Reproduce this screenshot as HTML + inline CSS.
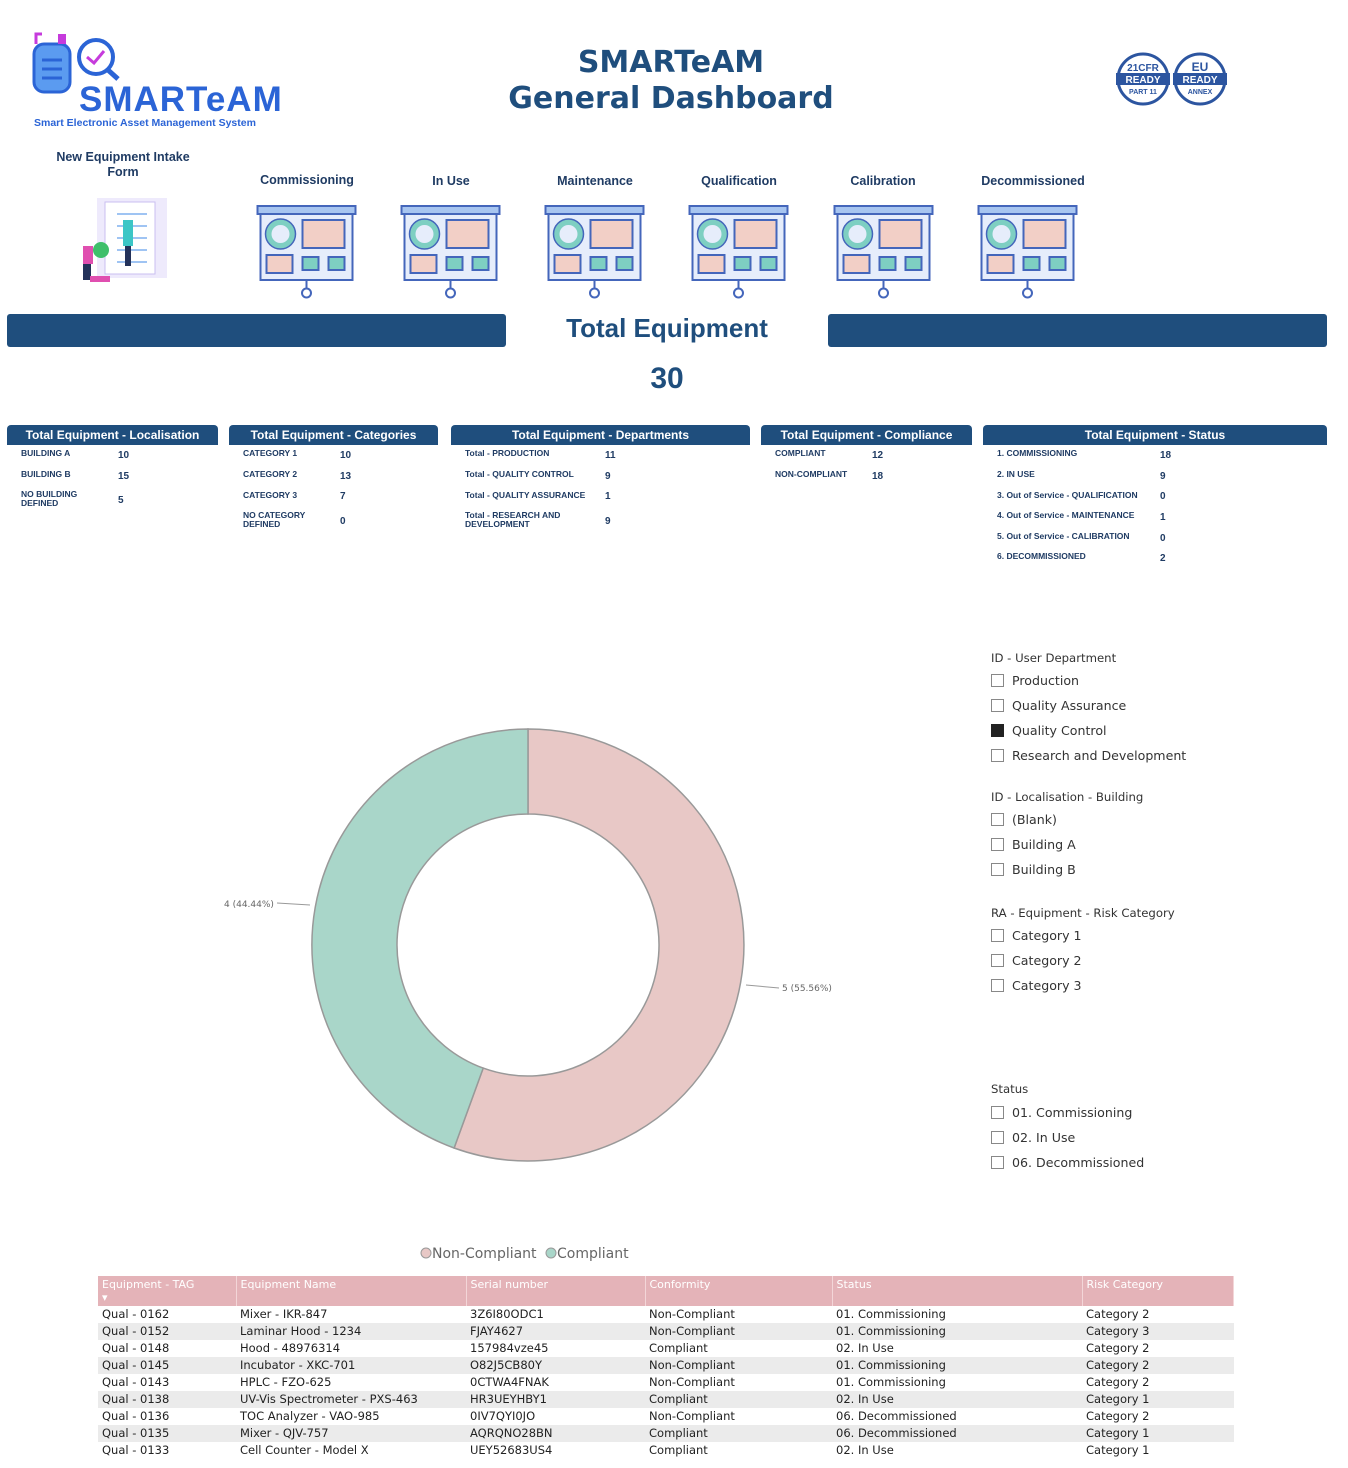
<!DOCTYPE html>
<html><head><meta charset="utf-8"><style>
*{margin:0;padding:0;box-sizing:border-box}
body{width:1348px;height:1468px;background:#fff;font-family:"Liberation Sans",sans-serif;position:relative;overflow:hidden;color:#1f3b63}
.a{position:absolute}
.h{position:absolute;background:#1f4e7d;color:#fff;font-weight:bold;font-size:12px;height:20px;line-height:21px;text-align:center;border-radius:4px 4px 0 0}
.k{position:absolute;font-size:8.5px;font-weight:bold;color:#1f3b63;line-height:9px}
.v{position:absolute;font-size:10px;font-weight:bold;color:#1f3b63}
.lbl{position:absolute;font-size:12.5px;font-weight:bold;color:#1f3b63;text-align:center}
.sl{position:absolute;color:#333;font-family:"DejaVu Sans",sans-serif;font-size:12.6px}
.cb{display:inline-block;width:13px;height:13px;border:1px solid #888;vertical-align:-2px;margin-right:8px}
table{position:absolute;left:98px;top:1276px;width:1136px;border-collapse:collapse;font-family:"DejaVu Sans",sans-serif;font-size:11.5px;color:#222}
th{background:#e4b3b8;color:#fff;font-weight:normal;text-align:left;height:29px;vertical-align:top;padding:2px 4px;font-size:11px;line-height:13px;border-right:1px solid #f3d6d8}
td{height:17px;padding:0 4px;line-height:17px}
tr.g td{background:#ebebeb}
</style></head><body>
<svg width="0" height="0" style="position:absolute"><defs>
<symbol id="bd" viewBox="0 0 100 95">
<rect x="1" y="1" width="98" height="8" fill="#a7c5f0" stroke="#4466bb" stroke-width="2"/>
<rect x="4" y="9" width="92" height="66" fill="#e6edfb" stroke="#4466bb" stroke-width="2"/>
<circle cx="24" cy="29" r="12" fill="none" stroke="#7ecfc2" stroke-width="6"/>
<circle cx="24" cy="29" r="15" fill="none" stroke="#4466bb" stroke-width="1.5"/>
<rect x="46" y="15" width="42" height="28" fill="#f2cfc6" stroke="#4466bb" stroke-width="2"/>
<rect x="10" y="50" width="26" height="18" fill="#f2cfc6" stroke="#4466bb" stroke-width="2"/>
<rect x="46" y="52" width="16" height="13" fill="#7ecfc2" stroke="#4466bb" stroke-width="2"/>
<rect x="72" y="52" width="16" height="13" fill="#7ecfc2" stroke="#4466bb" stroke-width="2"/>
<line x1="50" y1="83" x2="50" y2="75" stroke="#4466bb" stroke-width="2"/>
<circle cx="50" cy="88" r="4.5" fill="#fff" stroke="#4466bb" stroke-width="2"/>
</symbol></defs></svg>

<svg class="a" style="left:30px;top:30px" width="100" height="75">
<rect x="4" y="14" width="36" height="48" rx="10" fill="#5b9bf0" stroke="#2b64d6" stroke-width="3"/>
<line x1="12" y1="30" x2="32" y2="30" stroke="#2b64d6" stroke-width="3"/><line x1="12" y1="39" x2="32" y2="39" stroke="#2b64d6" stroke-width="3"/><line x1="12" y1="48" x2="32" y2="48" stroke="#2b64d6" stroke-width="3"/>
<path d="M6 14 V4 H12" stroke="#c63bdc" stroke-width="3" fill="none"/><rect x="28" y="4" width="8" height="10" fill="#c63bdc"/>
<circle cx="66" cy="27" r="17" fill="none" stroke="#2b64d6" stroke-width="4"/><line x1="78" y1="40" x2="88" y2="49" stroke="#2b64d6" stroke-width="5"/>
<path d="M57 27 l7 6 l10 -12" stroke="#c63bdc" stroke-width="3" fill="none"/>
</svg>
<div class="a" style="left:79px;top:80px;font-size:35px;font-weight:bold;color:#2b64d6;letter-spacing:1px;font-family:'Liberation Sans',sans-serif">SMARTeAM</div>
<div class="a" style="left:34px;top:117px;font-size:10.5px;font-weight:bold;color:#2b64d6">Smart Electronic Asset Management System</div>

<div class="a" style="left:0;width:1342px;top:45px;text-align:center;font-size:30px;font-weight:bold;color:#1f4e7d;line-height:36px;font-family:'DejaVu Sans',sans-serif">SMARTeAM<br>General Dashboard</div>

<svg class="a" style="left:1115px;top:52px" width="115" height="55">
<g font-family="Liberation Sans" font-weight="bold" text-anchor="middle">
<circle cx="28" cy="27" r="25" fill="#fff" stroke="#2c55a0" stroke-width="3"/><rect x="1" y="21" width="54" height="12" fill="#2c55a0"/>
<text x="28" y="19" font-size="10" fill="#2c55a0">21CFR</text><text x="28" y="31" font-size="10" fill="#fff">READY</text><text x="28" y="42" font-size="7" fill="#2c55a0">PART 11</text>
<circle cx="85" cy="27" r="25" fill="#fff" stroke="#2c55a0" stroke-width="3"/><rect x="58" y="21" width="54" height="12" fill="#2c55a0"/>
<text x="85" y="19" font-size="12" fill="#2c55a0">EU</text><text x="85" y="31" font-size="10" fill="#fff">READY</text><text x="85" y="42" font-size="7" fill="#2c55a0">ANNEX</text></g>
</svg>

<div class="lbl" style="left:40px;width:166px;top:150px;line-height:15px">New Equipment Intake<br>Form</div>
<svg class="a" style="left:75px;top:192px" width="100" height="92">
<rect x="22" y="6" width="70" height="80" fill="#eeeafc"/><rect x="30" y="10" width="50" height="72" fill="#fff" stroke="#c9bff0"/>
<g stroke="#9fc4f3" stroke-width="2"><line x1="42" y1="22" x2="72" y2="22"/><line x1="42" y1="34" x2="72" y2="34"/><line x1="42" y1="46" x2="72" y2="46"/><line x1="42" y1="58" x2="72" y2="58"/><line x1="42" y1="70" x2="72" y2="70"/></g>
<circle cx="26" cy="58" r="8" fill="#3fbf6a"/><rect x="8" y="54" width="10" height="18" fill="#e04fb0"/><rect x="8" y="72" width="8" height="16" fill="#23325a"/>
<rect x="48" y="28" width="10" height="26" fill="#3cc6c6"/><rect x="50" y="54" width="6" height="20" fill="#23325a"/><rect x="15" y="84" width="20" height="6" fill="#e04fb0"/>
</svg>

<div class="lbl" style="left:248px;width:118px;top:173px">Commissioning</div>
<div class="lbl" style="left:392px;width:118px;top:174px">In Use</div>
<div class="lbl" style="left:536px;width:118px;top:174px">Maintenance</div>
<div class="lbl" style="left:680px;width:118px;top:174px">Qualification</div>
<div class="lbl" style="left:824px;width:118px;top:174px">Calibration</div>
<div class="lbl" style="left:968px;width:130px;top:174px">Decommissioned</div>
<svg class="a" style="left:256px;top:205px" width="101" height="95"><use href="#bd"/></svg>
<svg class="a" style="left:400px;top:205px" width="101" height="95"><use href="#bd"/></svg>
<svg class="a" style="left:544px;top:205px" width="101" height="95"><use href="#bd"/></svg>
<svg class="a" style="left:688px;top:205px" width="101" height="95"><use href="#bd"/></svg>
<svg class="a" style="left:833px;top:205px" width="101" height="95"><use href="#bd"/></svg>
<svg class="a" style="left:977px;top:205px" width="101" height="95"><use href="#bd"/></svg>

<div class="a" style="left:7px;top:314px;width:499px;height:33px;background:#1f4e7d;border-radius:3px"></div>
<div class="a" style="left:828px;top:314px;width:499px;height:33px;background:#1f4e7d;border-radius:3px"></div>
<div class="a" style="left:506px;width:322px;top:313px;text-align:center;font-size:26px;font-weight:bold;color:#1f4e7d">Total Equipment</div>
<div class="a" style="left:506px;width:322px;top:362px;text-align:center;font-size:30px;font-weight:bold;color:#1f4e7d">30</div>

<div class="h" style="left:7px;top:425px;width:211px">Total Equipment - Localisation</div>
<div class="k" style="left:21px;top:449px">BUILDING A</div><div class="v" style="left:118px;top:450px">10</div>
<div class="k" style="left:21px;top:470px">BUILDING B</div><div class="v" style="left:118px;top:471px">15</div>
<div class="k" style="left:21px;top:490px">NO BUILDING<br>DEFINED</div><div class="v" style="left:118px;top:495px">5</div>

<div class="h" style="left:229px;top:425px;width:209px">Total Equipment - Categories</div>
<div class="k" style="left:243px;top:449px">CATEGORY 1</div><div class="v" style="left:340px;top:450px">10</div>
<div class="k" style="left:243px;top:470px">CATEGORY 2</div><div class="v" style="left:340px;top:471px">13</div>
<div class="k" style="left:243px;top:491px">CATEGORY 3</div><div class="v" style="left:340px;top:491px">7</div>
<div class="k" style="left:243px;top:511px">NO CATEGORY<br>DEFINED</div><div class="v" style="left:340px;top:516px">0</div>

<div class="h" style="left:451px;top:425px;width:299px">Total Equipment - Departments</div>
<div class="k" style="left:465px;top:449px">Total - PRODUCTION</div><div class="v" style="left:605px;top:450px">11</div>
<div class="k" style="left:465px;top:470px">Total - QUALITY CONTROL</div><div class="v" style="left:605px;top:471px">9</div>
<div class="k" style="left:465px;top:491px">Total - QUALITY ASSURANCE</div><div class="v" style="left:605px;top:491px">1</div>
<div class="k" style="left:465px;top:511px">Total - RESEARCH AND<br>DEVELOPMENT</div><div class="v" style="left:605px;top:516px">9</div>

<div class="h" style="left:761px;top:425px;width:211px">Total Equipment - Compliance</div>
<div class="k" style="left:775px;top:449px">COMPLIANT</div><div class="v" style="left:872px;top:450px">12</div>
<div class="k" style="left:775px;top:470px">NON-COMPLIANT</div><div class="v" style="left:872px;top:471px">18</div>

<div class="h" style="left:983px;top:425px;width:344px">Total Equipment - Status</div>
<div class="k" style="left:997px;top:449px">1. COMMISSIONING</div><div class="v" style="left:1160px;top:450px">18</div>
<div class="k" style="left:997px;top:470px">2. IN USE</div><div class="v" style="left:1160px;top:471px">9</div>
<div class="k" style="left:997px;top:491px">3. Out of Service - QUALIFICATION</div><div class="v" style="left:1160px;top:491px">0</div>
<div class="k" style="left:997px;top:511px">4. Out of Service - MAINTENANCE</div><div class="v" style="left:1160px;top:512px">1</div>
<div class="k" style="left:997px;top:532px">5. Out of Service - CALIBRATION</div><div class="v" style="left:1160px;top:533px">0</div>
<div class="k" style="left:997px;top:552px">6. DECOMMISSIONED</div><div class="v" style="left:1160px;top:553px">2</div>

<svg class="a" style="left:0;top:600px" width="980" height="680">
<g transform="translate(528,345)" stroke="#999" stroke-width="1.5">
<path d="M0 -216 A216 216 0 1 1 -73.9 203 L-44.8 123.1 A131 131 0 1 0 0 -131 Z" fill="#e8c8c6"/>
<path d="M0 -216 A216 216 0 0 0 -73.9 203 L-44.8 123.1 A131 131 0 0 1 0 -131 Z" fill="#a9d6c9"/>
</g>
<g font-family="DejaVu Sans" font-size="9" fill="#666">
<text x="224" y="307">4 (44.44%)</text><line x1="277" y1="303" x2="310" y2="305" stroke="#999"/>
<text x="782" y="391">5 (55.56%)</text><line x1="746" y1="385" x2="779" y2="388" stroke="#999"/>
</g>
<g font-family="DejaVu Sans" font-size="14" fill="#666">
<circle cx="426" cy="653" r="5" fill="#e8c8c6" stroke="#999"/><text x="432" y="658">Non-Compliant</text>
<circle cx="551" cy="653" r="5" fill="#a9d6c9" stroke="#999"/><text x="557" y="658">Compliant</text>
</g>
</svg>

<div class="sl" style="left:991px;top:651px;font-size:11.7px">ID - User Department</div>
<div class="sl" style="left:991px;top:673px"><span class="cb"></span>Production</div>
<div class="sl" style="left:991px;top:698px"><span class="cb"></span>Quality Assurance</div>
<div class="sl" style="left:991px;top:723px"><span class="cb" style="background:#222;border-color:#222"></span>Quality Control</div>
<div class="sl" style="left:991px;top:748px"><span class="cb"></span>Research and Development</div>
<div class="sl" style="left:991px;top:790px;font-size:11.7px">ID - Localisation - Building</div>
<div class="sl" style="left:991px;top:812px"><span class="cb"></span>(Blank)</div>
<div class="sl" style="left:991px;top:837px"><span class="cb"></span>Building A</div>
<div class="sl" style="left:991px;top:862px"><span class="cb"></span>Building B</div>
<div class="sl" style="left:991px;top:906px;font-size:11.7px">RA - Equipment - Risk Category</div>
<div class="sl" style="left:991px;top:928px"><span class="cb"></span>Category 1</div>
<div class="sl" style="left:991px;top:953px"><span class="cb"></span>Category 2</div>
<div class="sl" style="left:991px;top:978px"><span class="cb"></span>Category 3</div>
<div class="sl" style="left:991px;top:1082px;font-size:11.7px">Status</div>
<div class="sl" style="left:991px;top:1105px"><span class="cb"></span>01. Commissioning</div>
<div class="sl" style="left:991px;top:1130px"><span class="cb"></span>02. In Use</div>
<div class="sl" style="left:991px;top:1155px"><span class="cb"></span>06. Decommissioned</div>

<table>
<tr><th style="width:138px">Equipment - TAG<br>▾</th><th style="width:230px">Equipment Name</th><th style="width:179px">Serial number</th><th style="width:187px">Conformity</th><th style="width:250px">Status</th><th>Risk Category</th></tr>
<tr><td>Qual - 0162</td><td>Mixer - IKR-847</td><td>3Z6I80ODC1</td><td>Non-Compliant</td><td>01. Commissioning</td><td>Category 2</td></tr>
<tr class="g"><td>Qual - 0152</td><td>Laminar Hood - 1234</td><td>FJAY4627</td><td>Non-Compliant</td><td>01. Commissioning</td><td>Category 3</td></tr>
<tr><td>Qual - 0148</td><td>Hood - 48976314</td><td>157984vze45</td><td>Compliant</td><td>02. In Use</td><td>Category 2</td></tr>
<tr class="g"><td>Qual - 0145</td><td>Incubator - XKC-701</td><td>O82J5CB80Y</td><td>Non-Compliant</td><td>01. Commissioning</td><td>Category 2</td></tr>
<tr><td>Qual - 0143</td><td>HPLC - FZO-625</td><td>0CTWA4FNAK</td><td>Non-Compliant</td><td>01. Commissioning</td><td>Category 2</td></tr>
<tr class="g"><td>Qual - 0138</td><td>UV-Vis Spectrometer - PXS-463</td><td>HR3UEYHBY1</td><td>Compliant</td><td>02. In Use</td><td>Category 1</td></tr>
<tr><td>Qual - 0136</td><td>TOC Analyzer - VAO-985</td><td>0IV7QYI0JO</td><td>Non-Compliant</td><td>06. Decommissioned</td><td>Category 2</td></tr>
<tr class="g"><td>Qual - 0135</td><td>Mixer - QJV-757</td><td>AQRQNO28BN</td><td>Compliant</td><td>06. Decommissioned</td><td>Category 1</td></tr>
<tr><td>Qual - 0133</td><td>Cell Counter - Model X</td><td>UEY52683US4</td><td>Compliant</td><td>02. In Use</td><td>Category 1</td></tr>
</table>
</body></html>
